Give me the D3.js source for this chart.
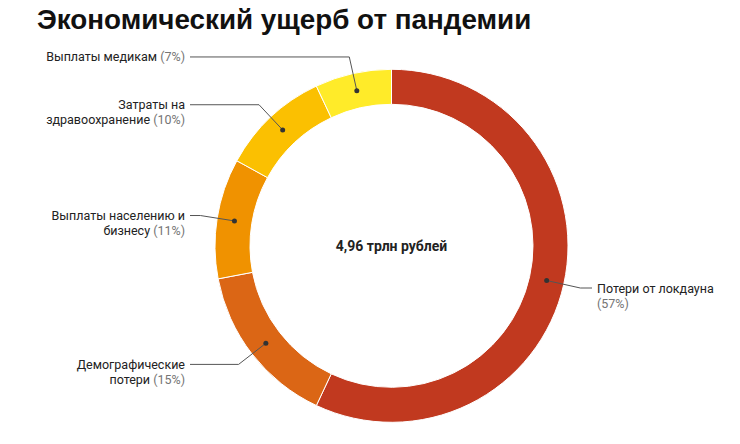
<!DOCTYPE html>
<html><head><meta charset="utf-8">
<script src="https://cdn.jsdelivr.net/npm/d3@7"></script>
<style>body{margin:0;background:#fff}</style>
</head><body><svg id="c" width="740" height="444"></svg>
<script>
const title = "Экономический ущерб от пандемии";
const centerLabel = "4,96 трлн рублей";
const categories = ["Потери от локдауна","Демографические потери","Выплаты населению и бизнесу","Затраты на здравоохранение","Выплаты медикам"];
const values = [57, 15, 11, 10, 7];
const labelLines = [["Потери от локдауна",""],["Демографические","потери"],["Выплаты населению и","бизнесу"],["Затраты на","здравоохранение"],["Выплаты медикам"]];
const colors = ["#C1391F","#DB6615","#F09200","#FBC001","#FFEB29"];

const svg = d3.select("#c");
const cx = 391.5, cy = 245.8, rOuter = 176.5, rInner = 141.5, rDot = 159, rElbow = 193.5;

svg.append("text").attr("x", 37).attr("y", 29)
  .attr("font-family", "Liberation Sans, Arial, sans-serif").attr("font-weight", "bold")
  .attr("font-size", 27.8).attr("fill", "#111").text(title);

const pie = d3.pie().sort(null).value(d => d)(values);
const arc = d3.arc().innerRadius(rInner).outerRadius(rOuter);
const g = svg.append("g").attr("transform", `translate(${cx},${cy})`);

g.selectAll("path.seg").data(pie).join("path").attr("class","seg")
  .attr("d", arc).attr("fill", (d,i) => colors[i])
  .attr("stroke", "#fff").attr("stroke-width", 1);

g.append("text").attr("x", 0).attr("y", 5).attr("text-anchor","middle")
  .attr("font-family","Roboto, sans-serif").attr("font-weight","bold")
  .attr("font-size", 14).attr("fill","#222").text(centerLabel);

pie.forEach((d, i) => {
  const a = (d.startAngle + d.endAngle) / 2;
  const px = r => Math.sin(a) * r, py = r => -Math.cos(a) * r;
  const right = Math.sin(a) > 0;
  const endX = right ? 592 - cx : 190 - cx;
  const ey = py(rElbow);
  g.append("polyline")
    .attr("points", [[px(rDot), py(rDot)], [px(rElbow), ey], [endX, ey]].map(p => p.join(",")).join(" "))
    .attr("fill","none").attr("stroke","#555").attr("stroke-width",1);
  g.append("circle").attr("cx", px(rDot)).attr("cy", py(rDot)).attr("r", 2.5).attr("fill","#333");
  const tx = right ? endX + 5 : endX - 5;
  const t = g.append("text").attr("x", tx).attr("y", ey + 4.5)
    .attr("text-anchor", right ? "start" : "end")
    .attr("font-family","Roboto, sans-serif").attr("font-size", 12.5).attr("fill","#222");
  const lines = labelLines[i];
  lines.forEach((ln, j) => {
    const ts = t.append("tspan").attr("x", tx).attr("dy", j === 0 ? 0 : 15);
    ts.append("tspan").text(ln);
    if (j === lines.length - 1) {
      ts.append("tspan").attr("fill","#757575").text((ln ? " " : "") + "(" + values[i] + "%)");
    }
  });
});
</script></body></html>
